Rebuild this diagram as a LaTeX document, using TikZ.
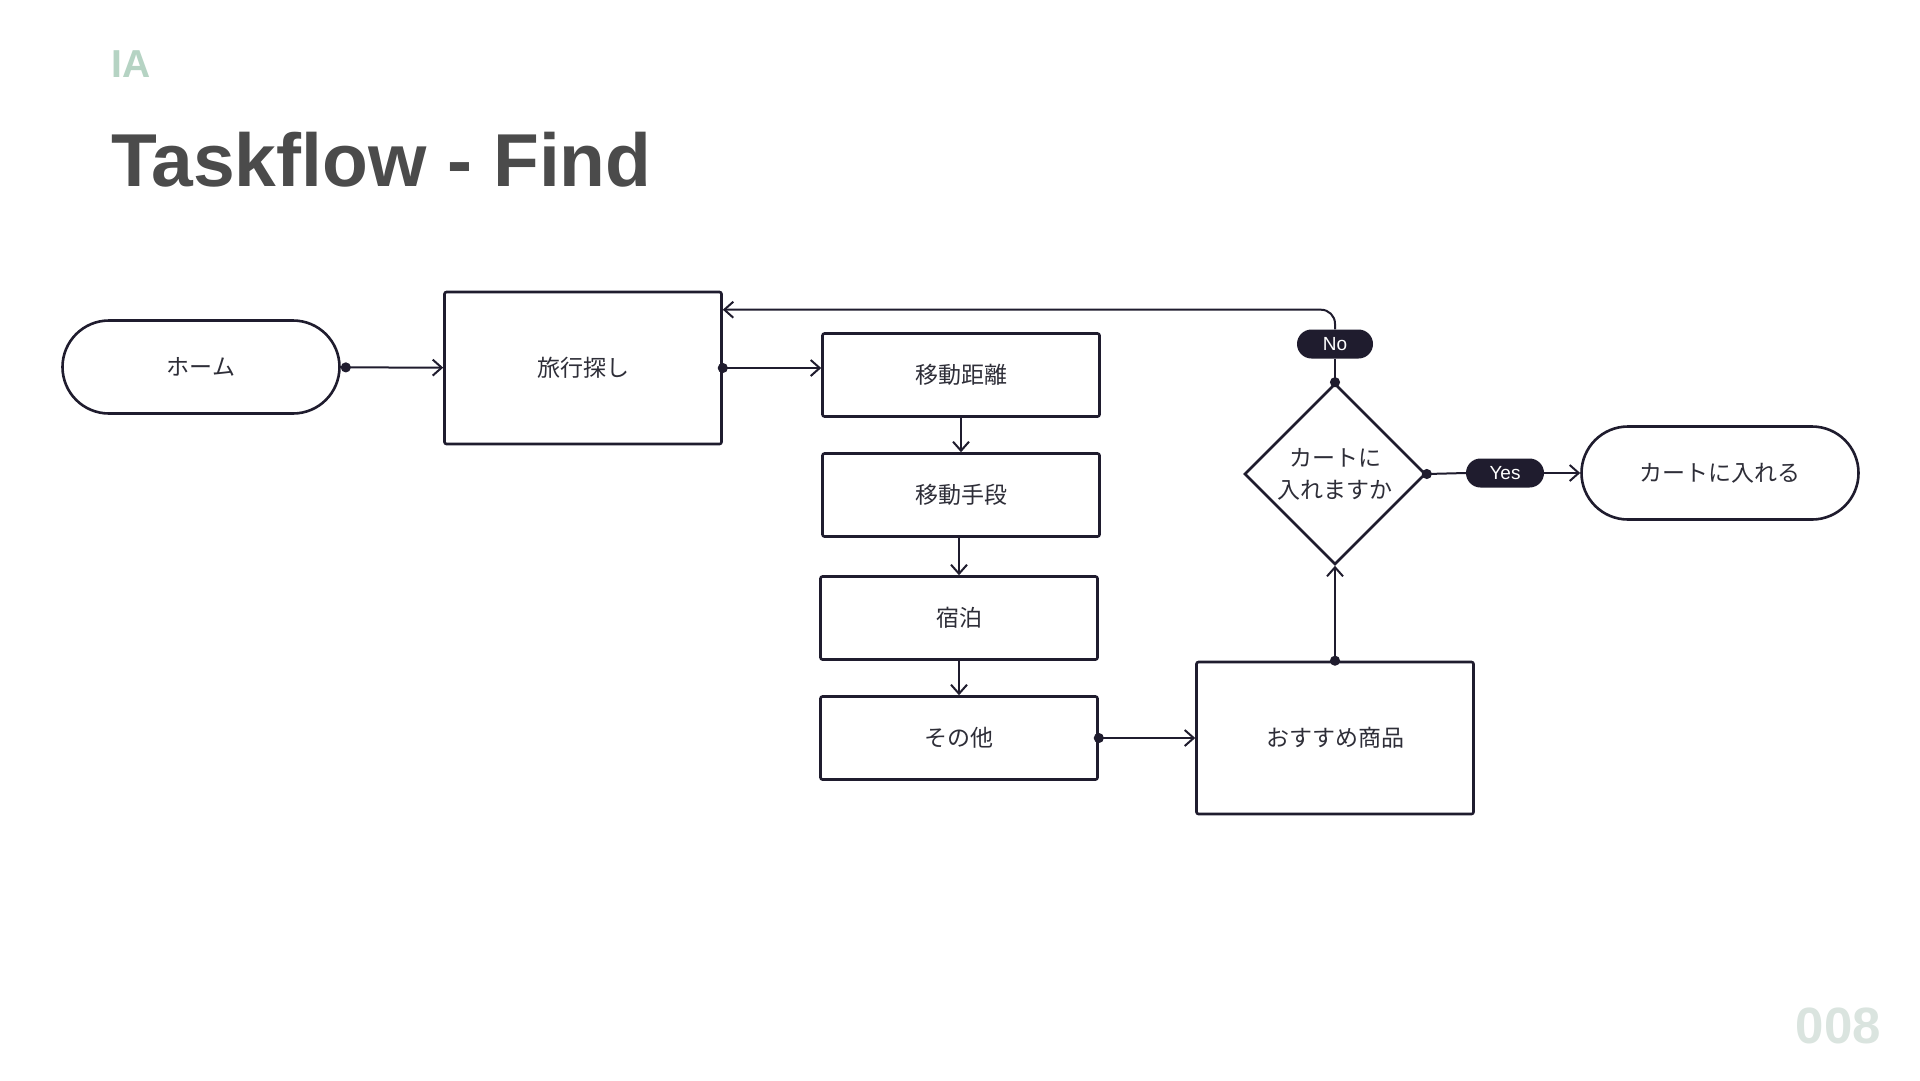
\documentclass[tikz,border=0pt]{standalone}
\usepackage{fontspec}
\usepackage{tikz}
\usetikzlibrary{shapes.geometric,arrows.meta}
\setmainfont{Liberation Sans}
\newfontfamily\jp{Noto Sans CJK JP}

\definecolor{ink}{HTML}{1F1C2E}
\definecolor{txt}{HTML}{2E2E38}
\definecolor{headgrey}{HTML}{4B4B4B}
\definecolor{iagreen}{HTML}{B5D3C3}
\definecolor{pagegrey}{HTML}{DAE4DF}

\begin{document}
\begin{tikzpicture}[x=1pt,y=-1pt,
    box/.style={draw=ink,line width=2.6pt,rounded corners=2pt,text=txt,
      minimum width=277pt,minimum height=83pt,font=\jp\fontsize{23}{32}\selectfont},
    bigbox/.style={box,minimum height=152pt},
    term/.style={box,minimum height=93pt,rounded corners=46.5pt},
    decision/.style={diamond,aspect=1,draw=ink,line width=2.6pt,text=txt,
      minimum size=181pt,inner sep=0pt,align=center,font=\jp\fontsize{23}{32}\selectfont},
    pill/.style={fill=ink,text=white,rounded corners=14.5pt,minimum width=76pt,
      minimum height=29pt,inner sep=0pt,font=\fontsize{19}{20}\selectfont},
    link/.style={draw=ink,line width=2pt},
    dotlink/.style={link,shorten <=-5pt,{Circle[length=10pt]}-{Straight Barb[length=9pt,width=16pt]}},
    dotline/.style={link,shorten <=-5pt,{Circle[length=10pt]}-},
    arrow/.style={link,-{Straight Barb[length=9pt,width=16pt]}}]

    \useasboundingbox[fill=white] (0,0) rectangle (1920,1080);

    \node[anchor=base west,inner sep=0pt,text=iagreen,font=\fontsize{39}{40}\bfseries\selectfont]
      (ia) at (111,77) {IA};
    \node[anchor=base west,inner sep=0pt,text=headgrey,font=\fontsize{75}{80}\bfseries\selectfont]
      (title) at (111,186) {Taskflow - Find};
    \node[anchor=base east,inner sep=0pt,text=pagegrey,font=\fontsize{51}{56}\bfseries\selectfont]
      (page) at (1881,1043) {008};

    \node[term] (home) at (201,367) {ホーム};
    \node[bigbox] (trip) at (583,368) {旅行探し};
    \node[box] (dist) at (961,375) {移動距離};
    \node[box] (means) at (961,495) {移動手段};
    \node[box] (stay) at (959,618) {宿泊};
    \node[box] (other) at (959,738) {その他};
    \node[bigbox] (reco) at (1335,738) {おすすめ商品};
    \node[decision] (ask) at (1335,474) {カートに\\入れますか};
    \node[pill] (no) at (1335,344) {No};
    \node[pill,minimum width=78pt] (yes) at (1505,473) {Yes};
    \node[term] (cart) at (1720,473) {カートに入れる};
    \coordinate (back) at ([yshift=-19pt]trip.north east);

    \draw[dotlink,shorten <=0pt] (home) -- (trip);
    \draw[dotlink] (trip.east) -- (trip.east -| dist.west);
    \draw[arrow] (dist.south) -- (dist.south |- means.north);
    \draw[arrow] (means.south -| stay.south) -- (stay.north);
    \draw[arrow] (stay.south) -- (other.north);
    \draw[dotlink] (other.east) -- (other.east -| reco.west);
    \draw[dotlink] (reco.north) -- (ask.south);
    \draw[dotline] (ask.east) -- (yes.west);
    \draw[arrow] (yes.east) -- (cart.west);
    \draw[dotline] (ask.north) -- (no.south);
    \draw[arrow,rounded corners=14pt] (no.north) |- (back);
  \end{tikzpicture}
\end{document}
